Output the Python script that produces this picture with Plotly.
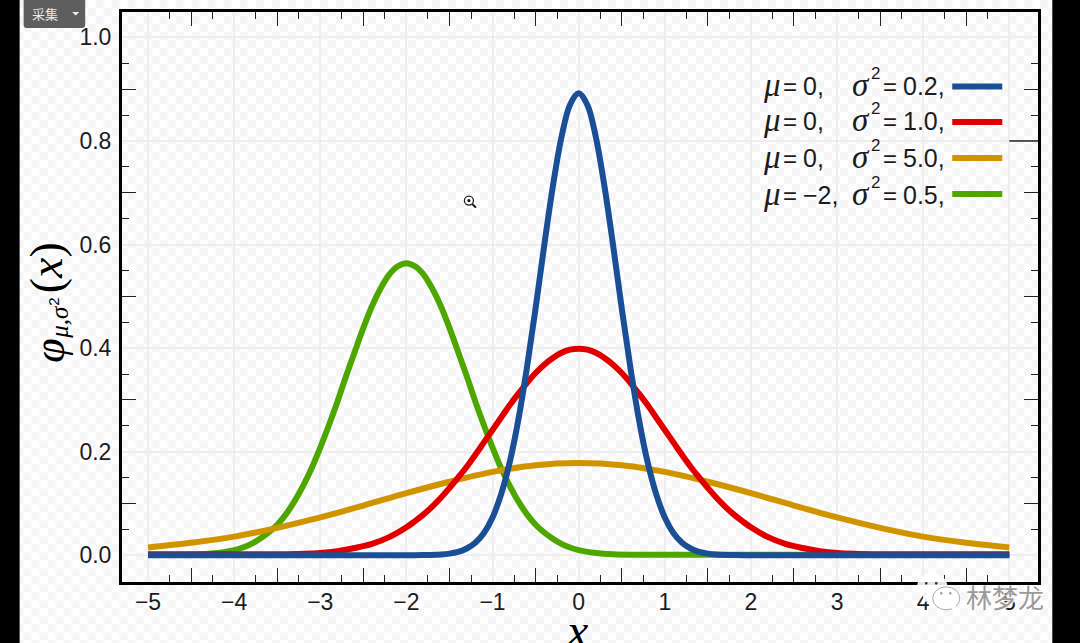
import base64
import plotly.graph_objects as go

# ---- data ----
blue_x = [-5, -4, -3, -2.5, -2, -1.8, -1.6, -1.5, -1.4, -1.3, -1.2, -1.1, -1, -0.9, -0.8, -0.7, -0.6, -0.5, -0.4, -0.3, -0.2, -0.1, 0,
          0.1, 0.2, 0.3, 0.4, 0.5, 0.6, 0.7, 0.8, 0.9, 1, 1.1, 1.2, 1.3, 1.4, 1.5, 1.6, 1.8, 2, 2.5, 3, 4, 5]
blue_y = [0, 0, 0, 0, 0, 0.0003, 0.0015, 0.0032, 0.0066, 0.013, 0.024, 0.043, 0.073, 0.118, 0.180, 0.262, 0.363, 0.477, 0.598, 0.712, 0.807, 0.870, 0.892,
          0.870, 0.807, 0.712, 0.598, 0.477, 0.363, 0.262, 0.180, 0.118, 0.073, 0.043, 0.024, 0.013, 0.0066, 0.0032, 0.0015, 0.0003, 0, 0, 0, 0, 0]
red_x = [-5, -4.5, -4, -3.5, -3, -2.8, -2.6, -2.4, -2.2, -2, -1.9, -1.8, -1.7, -1.6, -1.5, -1.4, -1.3, -1.2, -1.1, -1, -0.9, -0.8, -0.7, -0.6, -0.5, -0.4, -0.3, -0.2, -0.1, 0,
         0.1, 0.2, 0.3, 0.4, 0.5, 0.6, 0.7, 0.8, 0.9, 1, 1.1, 1.2, 1.3, 1.4, 1.5, 1.6, 1.7, 1.8, 1.9, 2, 2.2, 2.4, 2.6, 2.8, 3, 3.5, 4, 4.5, 5]
red_y = [0.002, 0.002, 0.002, 0.002, 0.0045, 0.008, 0.014, 0.022, 0.035, 0.054, 0.066, 0.079, 0.094, 0.111, 0.130, 0.150, 0.171, 0.194, 0.218, 0.242, 0.266, 0.290, 0.312, 0.333, 0.352, 0.368, 0.381, 0.391, 0.397, 0.399,
         0.397, 0.391, 0.381, 0.368, 0.352, 0.333, 0.312, 0.290, 0.266, 0.242, 0.218, 0.194, 0.171, 0.150, 0.130, 0.111, 0.094, 0.079, 0.066, 0.054, 0.035, 0.022, 0.014, 0.008, 0.0045, 0.002, 0.002, 0.002, 0.002]
gold_x = [-5, -4.5, -4, -3.5, -3, -2.5, -2, -1.5, -1, -0.5, 0, 0.5, 1, 1.5, 2, 2.5, 3, 3.5, 4, 4.5, 5]
gold_y = [0.015, 0.024, 0.036, 0.053, 0.073, 0.096, 0.120, 0.142, 0.161, 0.174, 0.178,
          0.174, 0.161, 0.142, 0.120, 0.096, 0.073, 0.053, 0.036, 0.024, 0.015]
green_x = [-5, -4.6, -4.4, -4.2, -4, -3.9, -3.8, -3.7, -3.6, -3.5, -3.4, -3.3, -3.2, -3.1, -3, -2.9, -2.8, -2.7, -2.6, -2.5, -2.4, -2.3, -2.2, -2.1, -2,
           -1.9, -1.8, -1.7, -1.6, -1.5, -1.4, -1.3, -1.2, -1.1, -1, -0.9, -0.8, -0.7, -0.6, -0.5, -0.4, -0.3, -0.2, -0.1, 0, 0.2, 0.4, 0.6, 1, 2, 3, 4, 5]
green_y = [0.001, 0.001, 0.0018, 0.0045, 0.010, 0.015, 0.022, 0.032, 0.044, 0.059, 0.079, 0.104, 0.134, 0.168, 0.208, 0.251, 0.297, 0.346, 0.393, 0.439, 0.481, 0.515, 0.542, 0.558, 0.564,
           0.558, 0.542, 0.515, 0.481, 0.439, 0.393, 0.346, 0.297, 0.251, 0.208, 0.168, 0.134, 0.104, 0.079, 0.059, 0.044, 0.032, 0.022, 0.015, 0.010, 0.0045, 0.0018, 0.001, 0.001, 0.001, 0.001, 0.001, 0.001]

x_labels = [-5, -4, -3, -2, -1, 0, 1, 2, 3, 4, 5]
y_labels = [0.0, 0.2, 0.4, 0.6, 0.8, 1.0]
x_long = [-4.5, -3.5, -2.5, -1.5, -0.5, 0.5, 1.5, 2.5, 3.5, 4.5]
x_short = [-4.75, -4.25, -3.75, -3.25, -2.75, -2.25, -1.75, -1.25, -0.75, -0.25,
           0.25, 0.75, 1.25, 1.75, 2.25, 2.75, 3.25, 3.75, 4.25, 4.75]
y_long = [0.1, 0.3, 0.5, 0.7, 0.9]
y_short = [0.05, 0.15, 0.25, 0.35, 0.45, 0.55, 0.65, 0.75, 0.85, 0.95]

legend_mu = ["0,", "0,", "0,", "−2,"]
legend_var = ["0.2,", "1.0,", "5.0,", "0.5,"]
colors = {"blue": "#1a4f96", "red": "#e00000", "gold": "#cf9400", "green": "#4ea600"}
legend_colors = [colors["blue"], colors["red"], colors["gold"], colors["green"]]

# ---- page geometry ----
W, H = 1080, 643
L, R, T, B = 122.3, 1037.7, 12, 581.7
X_RANGE = [-5.302, 5.333]
Y_RANGE = [-0.0516, 1.049]


def px(v):
    return (v - L) / (R - L)


def py(v):
    return (B - v) / (B - T)


fig = go.Figure()
for xs, ys, c in [(green_x, green_y, "green"), (gold_x, gold_y, "gold"),
                  (red_x, red_y, "red"), (blue_x, blue_y, "blue")]:
    fig.add_trace(go.Scatter(x=xs, y=ys, mode="lines", showlegend=False, hoverinfo="skip",
                             line=dict(color=colors[c], width=6, shape="spline", smoothing=1)))
# empty trace so that the overlay axes carrying the inside ticks get drawn
fig.add_trace(go.Scatter(x=[None], y=[None], xaxis="x2", yaxis="y2", showlegend=False, hoverinfo="skip"))

grid = "#eeeeee"
tickfont = dict(family="Liberation Sans", size=23, color="#1c1c1c")
common = dict(showline=True, linecolor="#000", mirror=True, zeroline=False,
              showgrid=True, gridcolor=grid, gridwidth=1.5, ticks="", tickfont=tickfont)
overlay = dict(showgrid=False, zeroline=False, showline=False, showticklabels=False, ticks="inside",
               tickmode="array", tickcolor="#222", tickwidth=1.3, ticklen=14, mirror="ticks")

svg = ('<svg xmlns="http://www.w3.org/2000/svg" width="1080" height="643">'
       '<defs><pattern id="c" width="16" height="16" patternUnits="userSpaceOnUse">'
       '<rect width="16" height="16" fill="#ffffff"/>'
       '<rect width="8" height="8" fill="#f5f5f5"/><rect x="8" y="8" width="8" height="8" fill="#f5f5f5"/>'
       '</pattern></defs><rect width="1080" height="643" fill="url(#c)"/></svg>')
checker = "data:image/svg+xml;base64," + base64.b64encode(svg.encode()).decode()

shapes = [
    dict(type="rect", xref="paper", yref="paper", x0=px(0), x1=px(20), y0=py(0), y1=py(H),
         fillcolor="#000", line_width=0, layer="above"),
    dict(type="rect", xref="paper", yref="paper", x0=px(1052), x1=px(W), y0=py(0), y1=py(H),
         fillcolor="#000", line_width=0, layer="above"),
    # long tick on the right edge at 0.8
    dict(type="line", xref="paper", yref="y", x0=px(1009), x1=1, y0=0.8, y1=0.8,
         line=dict(color="#222", width=1.5), layer="above"),
]
for i, c in enumerate(legend_colors):
    yy = [86.5, 122, 158, 194][i]
    shapes.append(dict(type="line", xref="paper", yref="paper", x0=px(952), x1=px(1002), y0=py(yy), y1=py(yy),
                       line=dict(color=c, width=6), layer="above"))


def rounded(x0, y0, x1, y1, r):
    return (f"M {px(x0 + r)} {py(y0)} L {px(x1 - r)} {py(y0)} Q {px(x1)} {py(y0)} {px(x1)} {py(y0 + r)} "
            f"L {px(x1)} {py(y1 - r)} Q {px(x1)} {py(y1)} {px(x1 - r)} {py(y1)} "
            f"L {px(x0 + r)} {py(y1)} Q {px(x0)} {py(y1)} {px(x0)} {py(y1 - r)} "
            f"L {px(x0)} {py(y0 + r)} Q {px(x0)} {py(y0)} {px(x0 + r)} {py(y0)} Z")


# capture button
shapes.append(dict(type="path", xref="paper", yref="paper", path=rounded(24, -4, 85.5, 28, 3),
                   fillcolor="#5e5e5e", line_width=0, layer="above"))
shapes.append(dict(type="path", xref="paper", yref="paper",
                   path=f"M {px(72.5)} {py(12)} L {px(79.5)} {py(12)} L {px(76)} {py(15.5)} Z",
                   fillcolor="#f0f0f0", line_width=0, layer="above"))


def circle(cx, cy, rx, ry, fill, line="rgba(0,0,0,0)", w=0):
    return dict(type="circle", xref="paper", yref="paper", x0=px(cx - rx), x1=px(cx + rx),
                y0=py(cy - ry), y1=py(cy + ry), fillcolor=fill, line=dict(color=line, width=w), layer="above")


def seg(x0, y0, x1, y1, c, w):
    return dict(type="line", xref="paper", yref="paper", x0=px(x0), x1=px(x1), y0=py(y0), y1=py(y1),
                line=dict(color=c, width=w), layer="above")


# magnifier cursor
shapes += [circle(469, 200.5, 4.5, 4.5, "#ffffff", "#222", 1.3), circle(469, 200.5, 1.6, 1.6, "#111"),
           seg(472.5, 204, 476, 207.5, "#111", 2)]
# watermark bubbles
shapes += [circle(932, 586, 15, 13, "rgba(255,255,255,0.9)"),
           dict(type="path", xref="paper", yref="paper", layer="above", fillcolor="rgba(255,255,255,0.9)", line_width=0,
                path=f"M {px(924)} {py(594)} L {px(921)} {py(604)} L {px(932)} {py(598)} Z"),
           circle(926, 583, 1.4, 1.4, "#333"), circle(936, 583, 1.4, 1.4, "#333"),
           circle(946, 598, 13.5, 11.5, "#ffffff", "#aaaaaa", 1),
           dict(type="path", xref="paper", yref="paper", layer="above", fillcolor="#ffffff", line_width=0,
                path=f"M {px(950)} {py(607)} L {px(956)} {py(611)} L {px(955)} {py(603)} Z"),
           circle(941, 593, 1.2, 1.2, "#999"), circle(950, 593, 1.2, 1.2, "#999")]


def note(x, y, text, size, anchor="left", family="Liberation Sans", color="#1c1c1c", angle=0):
    return dict(xref="paper", yref="paper", x=px(x), y=py(y), text=text, showarrow=False, xanchor=anchor,
                yanchor="middle", align="left", textangle=angle, font=dict(family=family, size=size, color=color),
                borderpad=0)


SERIF = "Liberation Serif"
annotations = []
for i, (m, v) in enumerate(zip(legend_mu, legend_var)):
    yy = [86, 121, 158, 195][i]
    annotations += [
        note(762, yy - 1, "<i>μ</i>", 33, family=SERIF),
        note(782, yy, "=", 24),
        note(801.5, yy, m, 25),
        note(851, yy - 1, "<i>σ</i>", 33, family=SERIF),
        note(870, yy - 13, "2", 17),
        note(882, yy, "=", 24),
        note(902, yy, v, 25),
    ]

annotations += [
    note(50, 351, "<i>φ</i>", 44, anchor="center", family=SERIF, color="#000", angle=-90),
    note(60, 322, "<i>μ,σ</i>", 25, anchor="center", family=SERIF, color="#000", angle=-90),
    note(53, 302, "2", 15, anchor="center", color="#000", angle=-90),
    note(47, 267.5, "(<i>x</i>)", 46, anchor="center", family=SERIF, color="#000", angle=-90),
    note(577, 630, "<i>x</i>", 48, anchor="center", family=SERIF, color="#000"),
    note(45.5, 13, "采集", 13, anchor="center", family="Noto Sans CJK SC", color="#e8e8e8"),
]
wm = note(1005, 596, "林梦龙", 26, anchor="center", family="Noto Sans CJK SC", color="#9a9a9a")
wm["font"]["shadow"] = "1px 1px 1px #ffffff"
annotations.append(wm)

fig.update_layout(
    width=W, height=H, margin=dict(l=L, r=W - R, t=T, b=H - B, pad=0, autoexpand=False),
    paper_bgcolor="#ffffff", plot_bgcolor="rgba(0,0,0,0)",
    xaxis=dict(range=X_RANGE, tickmode="array", tickvals=x_labels, linewidth=3,
               ticktext=[str(v).replace("-", "−") for v in x_labels],
               ticklabelstandoff=-3, **common),
    yaxis=dict(range=Y_RANGE, tickmode="array", tickvals=y_labels, linewidth=3,
               ticktext=[f"{v:.1f}" for v in y_labels],
               ticklabelstandoff=3, **common),
    xaxis2=dict(range=X_RANGE, overlaying="x", anchor="y2", tickvals=x_long,
                minor=dict(tickmode="array", tickvals=x_short, ticks="inside", ticklen=7, tickwidth=1.3, tickcolor="#222"),
                **overlay),
    yaxis2=dict(range=Y_RANGE, overlaying="y", anchor="x2", tickvals=y_long,
                minor=dict(tickmode="array", tickvals=y_short, ticks="inside", ticklen=7, tickwidth=1.3, tickcolor="#222"),
                **overlay),
    shapes=shapes, annotations=annotations,
    images=[dict(source=checker, xref="paper", yref="paper", x=px(0), y=py(0), sizex=px(W) - px(0), sizey=py(0) - py(H),
                 xanchor="left", yanchor="top", sizing="stretch", layer="below")],
)

fig.write_html("out.html", config={"displayModeBar": False},
               post_script="document.body.style.margin='0';document.body.style.overflow='hidden';")
